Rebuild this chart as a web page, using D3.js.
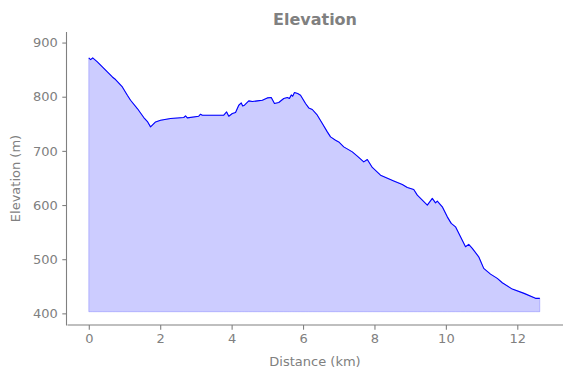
<!DOCTYPE html>
<html>
<head>
<meta charset="utf-8">
<script src="https://cdn.jsdelivr.net/npm/d3@7"></script>
<style>
  body { margin: 0; background: #fff; }
  svg { display: block; font-family: "DejaVu Sans", sans-serif; }
</style>
</head>
<body>
<div id="chart"></div>
<script>
// distance along the track (km)
const distanceKm = [
  0.00, 0.05, 0.11, 0.24, 0.38, 0.52, 0.66, 0.75, 0.94, 1.08,
  1.17, 1.36, 1.54, 1.65, 1.73, 1.87, 2.01, 2.29, 2.66, 2.71,
  2.76, 3.08, 3.13, 3.18, 3.78, 3.86, 3.92, 4.02, 4.11, 4.20,
  4.27, 4.31, 4.36, 4.48, 4.58, 4.72, 4.86, 5.00, 5.11, 5.20,
  5.32, 5.46, 5.56, 5.62, 5.67, 5.71, 5.76, 5.85, 5.93, 6.07,
  6.16, 6.26, 6.40, 6.54, 6.68, 6.77, 6.91, 7.00, 7.14, 7.38,
  7.52, 7.70, 7.80, 7.94, 8.17, 8.54, 8.78, 8.92, 9.10, 9.20,
  9.34, 9.48, 9.62, 9.71, 9.76, 9.90, 10.04, 10.15, 10.27, 10.41,
  10.55, 10.64, 10.74, 10.92, 11.06, 11.25, 11.44, 11.58, 11.86, 12.19,
  12.51, 12.63
];

// elevation (m)
const elevationM = [
  871.6, 868.6, 871.6, 864.2, 855.0, 845.8, 836.5, 831.7, 818.1, 802.8,
  793.5, 778.2, 761.6, 753.5, 744.3, 753.5, 756.6, 759.8, 761.6, 764.6,
  760.9, 764.0, 767.7, 765.9, 765.9, 772.0, 764.0, 769.0, 770.8, 784.3,
  788.6, 783.0, 784.3, 792.3, 791.1, 792.3, 793.5, 797.8, 798.5, 787.5,
  789.3, 796.7, 798.5, 796.7, 803.3, 800.9, 807.7, 805.9, 802.8, 787.5,
  779.3, 776.4, 765.9, 750.6, 735.1, 725.8, 719.7, 716.6, 707.4, 698.2,
  690.2, 679.7, 684.1, 669.4, 655.2, 644.6, 638.0, 632.5, 628.8, 618.3,
  609.0, 599.8, 612.2, 604.1, 607.2, 596.7, 578.2, 566.1, 559.8, 541.3,
  522.9, 527.3, 519.9, 504.4, 483.0, 472.5, 464.6, 456.5, 444.8, 436.9,
  427.7, 427.7
];

const xTicks = [0, 2, 4, 6, 8, 10, 12];
const yTicks = [400, 500, 600, 700, 800, 900];
const fillBase = 403;

const width = 571, height = 378;
const margin = { top: 32, right: 8, bottom: 53, left: 67 };
const innerW = width - margin.left - margin.right;
const innerH = height - margin.top - margin.bottom;
const grey = "#808080";

const data = distanceKm.map((d, i) => ({ x: d, y: elevationM[i] }));

const svg = d3.select("#chart").append("svg")
  .attr("width", width)
  .attr("height", height);

const g = svg.append("g")
  .attr("transform", `translate(${margin.left},${margin.top})`);

// matplotlib-ish 5% padding around the data
const x = d3.scaleLinear()
  .domain([-0.61, 13.28])
  .range([0, innerW]);

const y = d3.scaleLinear()
  .domain([378.5, 919.5])
  .range([innerH, 0]);

// filled area under the profile
const area = d3.area()
  .x(d => x(d.x))
  .y0(y(fillBase))
  .y1(d => y(d.y));

g.append("path")
  .datum(data)
  .attr("fill", "rgba(0,0,255,0.2)")
  .attr("stroke", "rgba(0,0,255,0.2)")
  .attr("stroke-width", 1)
  .attr("d", area);

const line = d3.line()
  .x(d => x(d.x))
  .y(d => y(d.y));

g.append("path")
  .datum(data)
  .attr("fill", "none")
  .attr("stroke", "#0000ff")
  .attr("stroke-width", 1.1)
  .attr("stroke-linejoin", "round")
  .attr("d", line);

// axes
const xAxis = g.append("g")
  .attr("transform", `translate(0,${innerH})`)
  .call(d3.axisBottom(x).tickValues(xTicks).tickSize(4.7).tickPadding(4.5).tickFormat(d3.format("d")));

const yAxis = g.append("g")
  .call(d3.axisLeft(y).tickValues(yTicks).tickSize(4.7).tickPadding(4.5).tickFormat(d3.format("d")));

[xAxis, yAxis].forEach(a => {
  a.select(".domain").attr("stroke", grey).attr("stroke-width", 1.1);
  a.selectAll(".tick line").attr("stroke", grey).attr("stroke-width", 1.1);
  a.selectAll(".tick text")
    .attr("fill", grey)
    .style("font-size", "13px")
    .style("font-family", "DejaVu Sans");
});
// flat domain ends like matplotlib spines
xAxis.select(".domain").attr("d", `M0.5,0H${innerW}`);
yAxis.select(".domain").attr("d", `M-0.5,0V${innerH + 0.5}`);

// labels
svg.append("text")
  .attr("x", margin.left + innerW / 2)
  .attr("y", 24.5)
  .attr("text-anchor", "middle")
  .attr("fill", grey)
  .style("font-size", "16px")
  .style("font-weight", "bold")
  .text("Elevation");

svg.append("text")
  .attr("x", margin.left + innerW / 2)
  .attr("y", 366)
  .attr("text-anchor", "middle")
  .attr("fill", grey)
  .style("font-size", "13px")
  .text("Distance (km)");

svg.append("text")
  .attr("transform", `translate(20,${margin.top + innerH / 2}) rotate(-90)`)
  .attr("text-anchor", "middle")
  .attr("fill", grey)
  .style("font-size", "13px")
  .text("Elevation (m)");
</script>
</body>
</html>
